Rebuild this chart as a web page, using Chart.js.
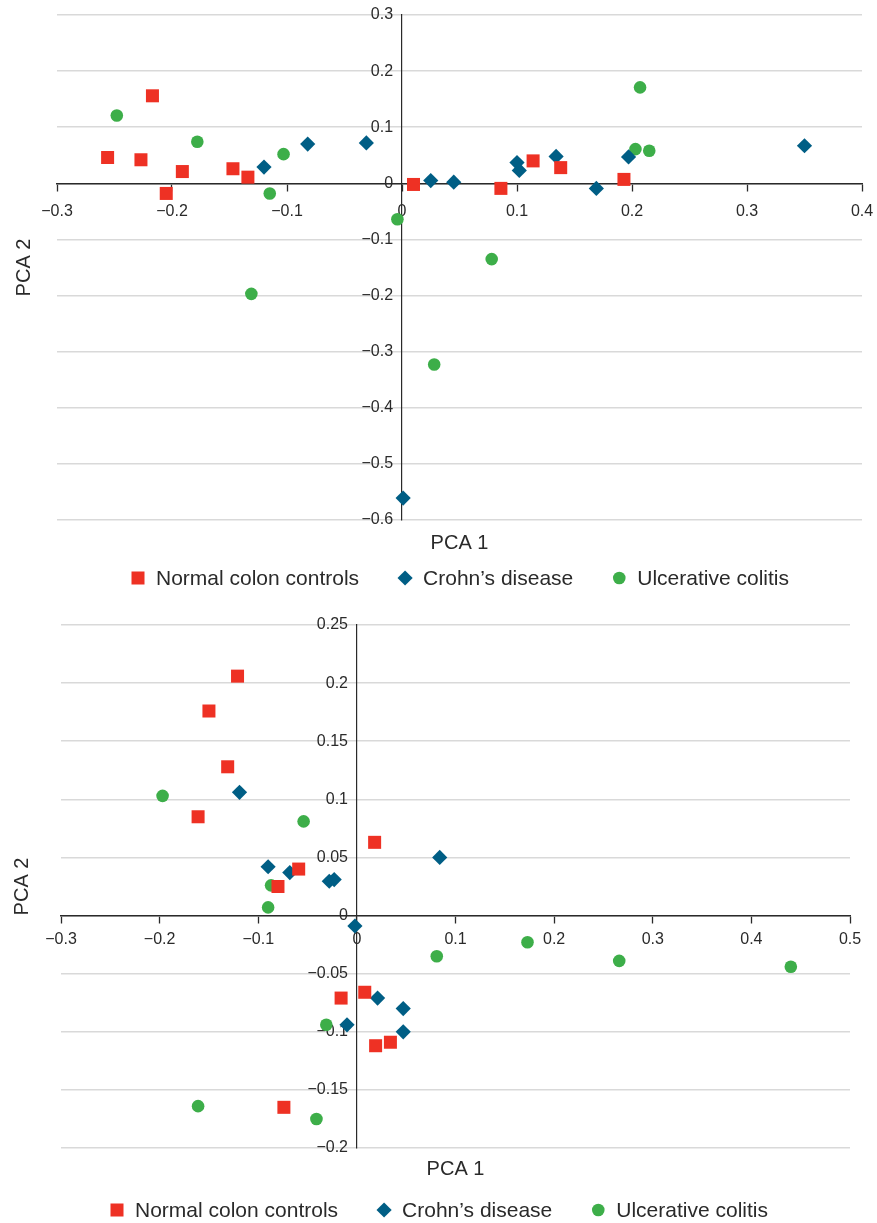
<!DOCTYPE html>
<html>
<head>
<meta charset="utf-8">
<script src="https://cdn.jsdelivr.net/npm/chart.js@4/dist/chart.umd.min.js"></script>
<style>
  html, body { margin: 0; padding: 0; background: #fff; }
  canvas { display: block; }
</style>
</head>
<body>
<canvas id="pca-top" width="877" height="600"></canvas>
<canvas id="pca-bottom" width="877" height="623"></canvas>
<script>
/* ---- Data ---- */
const seriesLabels = ['Normal colon controls', 'Crohn\u2019s disease', 'Ulcerative colitis'];

// top panel
const topNormalX = [-0.256, -0.217, -0.227, -0.205, -0.191, -0.147, -0.134, 0.010, 0.086, 0.114, 0.138, 0.193];
const topNormalY = [0.046, 0.156, 0.042, -0.018, 0.021, 0.026, 0.011, -0.002, -0.009, 0.040, 0.028, 0.007];
const topCrohnX = [-0.120, -0.082, -0.031, 0.025, 0.045, 0.100, 0.102, 0.134, 0.169, 0.197, 0.350, 0.001];
const topCrohnY = [0.029, 0.070, 0.072, 0.005, 0.002, 0.037, 0.023, 0.048, -0.009, 0.047, 0.067, -0.561];
const topColitisX = [-0.248, -0.178, -0.103, -0.115, -0.004, -0.131, 0.078, 0.207, 0.203, 0.215, 0.028];
const topColitisY = [0.121, 0.074, 0.052, -0.018, -0.064, -0.197, -0.135, 0.171, 0.061, 0.058, -0.323];
const topXTicks = { min: -0.3, max: 0.4, step: 0.1 };
const topYTicks = { min: -0.6, max: 0.3, step: 0.1 };

// bottom panel
const botNormalX = [-0.121, -0.150, -0.131, -0.161, 0.018, -0.059, -0.080, -0.016, 0.008, 0.019, 0.034, -0.074];
const botNormalY = [0.206, 0.176, 0.128, 0.085, 0.063, 0.040, 0.025, -0.071, -0.066, -0.112, -0.109, -0.165];
const botCrohnX = [-0.119, -0.090, -0.068, -0.028, -0.023, -0.002, 0.084, 0.021, 0.047, -0.010, 0.047];
const botCrohnY = [0.106, 0.042, 0.037, 0.0295, 0.031, -0.009, 0.050, -0.071, -0.080, -0.094, -0.100];
const botColitisX = [-0.197, -0.054, -0.087, -0.090, 0.173, 0.081, 0.266, 0.440, -0.031, -0.161, -0.041];
const botColitisY = [0.103, 0.081, 0.026, 0.007, -0.023, -0.035, -0.039, -0.044, -0.094, -0.164, -0.175];
const botXTicks = { min: -0.3, max: 0.5, step: 0.1 };
const botYTicks = { min: -0.2, max: 0.25, step: 0.05 };

const COLORS = ['#ee3124', '#005e85', '#3dae49'];
const STYLES = ['rect', 'rectRot', 'circle'];
const RADII = [9.2, 7.6, 6.3];
const FONT = '"Liberation Sans", Arial, Helvetica, sans-serif';
const INK = '#2a2a2a';

function zip(xs, ys) {
    return xs.map((x, i) => ({ x: x, y: ys[i] }));
}

function fmt(v) {
    const s = String(Number(v.toFixed(2)));
    return s.replace('-', '\u2212');
}

/* ---- Axis titles + legend drawn under/left of the plot ---- */
const pcaDecor = {
    id: 'pcaDecor',
    afterDraw(chart, args, opts) {
        const { ctx, chartArea } = chart;
        ctx.save();
        ctx.fillStyle = INK;
        ctx.font = '20px ' + FONT;
        ctx.textAlign = 'center';
        ctx.textBaseline = 'middle';
        ctx.fillText('PCA 1', (chartArea.left + chartArea.right) / 2, chartArea.bottom + opts.xTitleGap);

        ctx.save();
        ctx.translate(opts.yTitleX, (chartArea.top + chartArea.bottom) / 2);
        ctx.rotate(-Math.PI / 2);
        ctx.fillText('PCA 2', 0, 0);
        ctx.restore();

        // legend
        const ly = chartArea.bottom + opts.legendGap;
        let x = opts.legendStart;
        ctx.font = '21px ' + FONT;
        ctx.textAlign = 'left';
        chart.data.datasets.forEach((ds) => {
            ctx.fillStyle = ds.backgroundColor;
            Chart.helpers.drawPoint(ctx, {
                pointStyle: ds.pointStyle,
                radius: ds.pointRadius,
                rotation: 0,
                borderWidth: 0
            }, x, ly);
            ctx.fillStyle = INK;
            ctx.fillText(ds.label, x + 18, ly + 1);
            x += 18 + ctx.measureText(ds.label).width + 46;
        });
        ctx.restore();
    }
};

function makePanel(id, series, xt, yt, pad, decor, xTickPad) {
    const datasets = series.map((pts, i) => ({
        label: seriesLabels[i],
        data: pts,
        backgroundColor: COLORS[i],
        borderWidth: 0,
        pointStyle: STYLES[i],
        pointRadius: RADII[i],
        pointHoverRadius: RADII[i]
    }));

    // keep end tick labels from shrinking the plot area
    const noOverflow = scale => {
        scale.paddingLeft = 0; scale.paddingRight = 0;
        scale.paddingTop = 0; scale.paddingBottom = 0;
    };

    return new Chart(document.getElementById(id), {
        type: 'scatter',
        data: { datasets },
        plugins: [pcaDecor],
        options: {
            responsive: false,
            devicePixelRatio: 1,
            animation: false,
            layout: { padding: pad },
            scales: {
                x: {
                    type: 'linear',
                    position: { y: 0 },
                    min: xt.min, max: xt.max,
                    afterFit: noOverflow,
                    grid: {
                        drawOnChartArea: false,
                        drawTicks: true,
                        tickLength: 7,
                        tickColor: INK,
                        tickWidth: 1.3
                    },
                    border: { display: true, color: INK, width: 1.5 },
                    ticks: {
                        stepSize: xt.step,
                        padding: xTickPad,
                        maxRotation: 0,
                        autoSkip: false,
                        color: INK,
                        font: { family: FONT, size: 16 },
                        callback: v => fmt(v)
                    }
                },
                y: {
                    type: 'linear',
                    position: { x: 0 },
                    min: yt.min, max: yt.max,
                    afterFit: noOverflow,
                    grid: {
                        color: '#d9d9d9',
                        lineWidth: 1.5,
                        drawTicks: false
                    },
                    border: { display: true, color: INK, width: 1.2 },
                    ticks: {
                        stepSize: yt.step,
                        autoSkip: false,
                        color: INK,
                        font: { family: FONT, size: 16 },
                        callback: v => fmt(v) + '  '
                    }
                }
            },
            plugins: {
                legend: { display: false },
                tooltip: { enabled: false },
                pcaDecor: decor
            }
        }
    });
}

makePanel('pca-top',
    [zip(topNormalX, topNormalY), zip(topCrohnX, topCrohnY), zip(topColitisX, topColitisY)],
    topXTicks, topYTicks,
    { top: 15, bottom: 80, left: 57, right: 15 },
    { xTitleGap: 23, yTitleX: 24, legendGap: 58, legendStart: 138 },
    12);

makePanel('pca-bottom',
    [zip(botNormalX, botNormalY), zip(botCrohnX, botCrohnY), zip(botColitisX, botColitisY)],
    botXTicks, botYTicks,
    { top: 25, bottom: 75, left: 61, right: 27 },
    { xTitleGap: 21, yTitleX: 22, legendGap: 62, legendStart: 117 },
    7);
</script>
</body>
</html>
